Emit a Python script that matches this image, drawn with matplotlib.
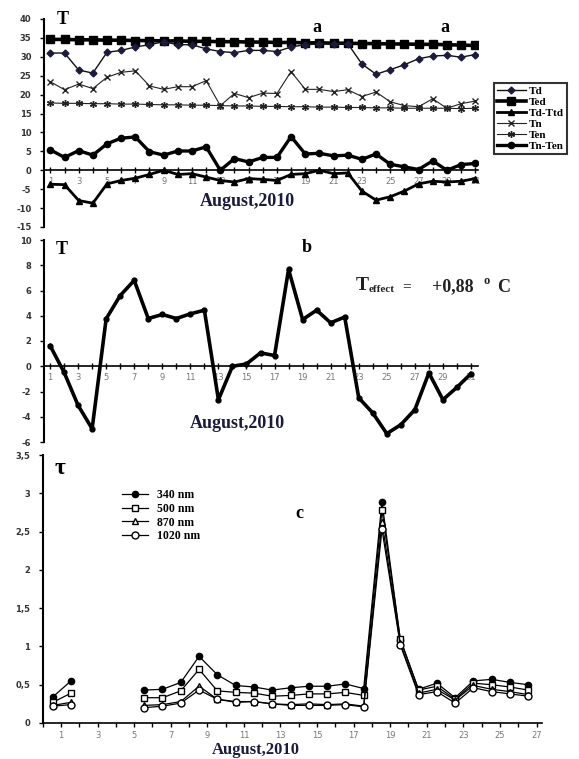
"""Three-panel temperature / optical depth chart, August 2010."""
import matplotlib

matplotlib.use("Agg")
import matplotlib.pyplot as plt
import numpy as np

plt.rcParams["axes.unicode_minus"] = False

W, H = 579, 759
SERIF = "Liberation Serif"
NAVY = "#1b1b3c"

# ---- panel a: daily temperatures ----
DAYS_A = np.arange(1, 32)
TD = [31.0, 31.0, 26.5, 25.7, 31.2, 31.7, 32.6, 33.2, 34.0, 33.2, 33.2, 32.1, 31.4, 31.1, 31.7, 31.7,
      31.4, 32.6, 33.2, 33.4, 33.5, 33.5, 28.1, 25.4, 26.6, 27.9, 29.5, 30.2, 30.4, 29.9, 30.6]
TED = [34.6, 34.6, 34.5, 34.5, 34.4, 34.4, 34.3, 34.3, 34.2, 34.2, 34.1, 34.1, 34.0, 34.0, 33.9, 33.9,
       33.8, 33.8, 33.7, 33.7, 33.6, 33.6, 33.5, 33.5, 33.4, 33.4, 33.3, 33.3, 33.2, 33.1, 33.0]
TD_TTD = [-3.7, -3.8, -8.0, -8.7, -3.6, -2.7, -2.1, -1.1, 0.0, -1.1, -0.9, -1.8, -2.7, -3.1, -2.2, -2.4,
          -2.7, -1.1, -0.9, 0.0, -0.9, -0.7, -5.5, -7.9, -7.0, -5.5, -3.6, -2.9, -3.1, -2.9, -2.2]
TN = [23.4, 21.3, 22.8, 21.6, 24.6, 25.9, 26.3, 22.3, 21.4, 22.1, 22.1, 23.7, 17.1, 20.3, 19.2, 20.4,
      20.3, 26.1, 21.4, 21.4, 20.8, 21.3, 19.5, 20.7, 18.1, 17.1, 16.8, 18.9, 16.4, 17.6, 18.3]
TEN = [17.8, 17.7, 17.7, 17.6, 17.6, 17.5, 17.5, 17.4, 17.3, 17.3, 17.2, 17.2, 17.1, 17.0, 17.0, 16.9,
       16.9, 16.8, 16.8, 16.7, 16.7, 16.6, 16.6, 16.5, 16.5, 16.4, 16.4, 16.4, 16.4, 16.3, 16.4]
TN_TEN = [5.4, 3.4, 5.2, 4.0, 7.0, 8.5, 8.8, 4.9, 4.0, 5.1, 5.1, 6.2, 0.0, 3.1, 2.2, 3.4,
          3.4, 8.9, 4.3, 4.5, 3.8, 4.0, 2.9, 4.3, 1.6, 0.9, 0.2, 2.5, 0.0, 1.5, 1.8]

# ---- panel b: temperature effect ----
T_EFFECT = [1.64, -0.48, -3.1, -4.95, 3.76, 5.6, 6.8, 3.78, 4.1, 3.78, 4.15, 4.44, -2.65, 0.0, 0.18, 1.06,
            0.85, 7.67, 3.7, 4.44, 3.44, 3.9, -2.5, -3.7, -5.34, -4.63, -3.44, -0.53, -2.65, -1.67, -0.58]

# ---- panel c: aerosol optical depth (nan = no data) ----
DAYS_C = np.arange(1, 28)
NAN = np.nan
AOD_340 = [0.34, 0.55, NAN, NAN, NAN, 0.43, 0.44, 0.53, 0.87, 0.63, 0.49, 0.47, 0.43, 0.46, 0.48, 0.48,
           0.51, 0.45, 2.89, 1.09, 0.44, 0.52, 0.33, 0.55, 0.57, 0.53, 0.50]
AOD_500 = [0.27, 0.39, NAN, NAN, NAN, 0.33, 0.33, 0.42, 0.70, 0.42, 0.40, 0.39, 0.35, 0.36, 0.38, 0.38,
           0.40, 0.36, 2.78, 1.10, 0.43, 0.48, 0.31, 0.52, 0.50, 0.47, 0.43]
AOD_870 = [0.23, 0.27, NAN, NAN, NAN, 0.23, 0.24, 0.28, 0.48, 0.31, 0.28, 0.28, 0.25, 0.24, 0.25, 0.24,
           0.25, 0.22, 2.63, 1.04, 0.39, 0.44, 0.30, 0.49, 0.44, 0.41, 0.37]
AOD_1020 = [0.22, 0.24, NAN, NAN, NAN, 0.20, 0.22, 0.26, 0.43, 0.31, 0.27, 0.28, 0.25, 0.23, 0.23, 0.23,
            0.24, 0.21, 2.53, 1.02, 0.37, 0.41, 0.26, 0.46, 0.41, 0.38, 0.35]


def fx(px):
    return px / W


def fy(py):
    return 1 - py / H


def label(fig, x, y, s, size=12, color="black", **kw):
    fig.text(fx(x), fy(y), s, family=SERIF, weight="bold", size=size, color=color,
             va="center", ha="left", **kw)


def style_axis(ax, xzero=True):
    ax.spines["top"].set_visible(False)
    ax.spines["right"].set_visible(False)
    ax.spines["left"].set_linewidth(1.5)
    ax.spines["bottom"].set_linewidth(1.2)
    if xzero:
        ax.spines["bottom"].set_position(("data", 0))
    ax.set_facecolor("none")
    ax.tick_params(axis="y", direction="out", length=3, width=1, labelsize=6, labelcolor="#333333", pad=6)
    ax.tick_params(axis="x", which="both", direction="inout", length=4, width=1, labelsize=6,
                   labelcolor="#777777", pad=3)
    for t in ax.get_yticklabels():
        t.set_fontweight("bold")


def main():
    fig = plt.figure(figsize=(W / 100, H / 100), dpi=100, facecolor="white")

    # panel a
    ax = fig.add_axes([fx(44), fy(227), (478 - 44) / W, (227 - 19) / H])
    ax.plot(DAYS_A, TED, color="black", lw=2.6, marker="s", ms=5.5, label="Ted")
    ax.plot(DAYS_A, TD, color="#111111", lw=1.0, marker="D", ms=3.5, mfc=NAVY, mec=NAVY, label="Td")
    ax.plot(DAYS_A, TN, color="#222222", lw=0.8, marker="x", ms=5, mew=1, label="Tn")
    ax.plot(DAYS_A, TEN, color="#222222", lw=0.8, marker=(6, 2, 0), ms=5, mew=1, label="Ten")
    ax.plot(DAYS_A, TN_TEN, color="black", lw=2.4, marker="o", ms=4.5, label="Tn-Ten")
    ax.plot(DAYS_A, TD_TTD, color="black", lw=2.0, marker="^", ms=4.5, label="Td-Ttd")
    ax.set_xlim(0.55, 31.2)
    ax.set_ylim(-15, 40)
    ax.set_yticks(range(-15, 41, 5))
    ax.set_xticks(range(1, 32, 2))
    ax.set_xticks(range(1, 32), minor=True)
    style_axis(ax)
    handles = {h.get_label(): h for h in ax.get_lines()}
    order = ["Td", "Ted", "Td-Ttd", "Tn", "Ten", "Tn-Ten"]
    leg = ax.legend([handles[k] for k in order], order, loc="upper left",
                    bbox_to_anchor=(fx(494), fy(83)), bbox_transform=fig.transFigure,
                    frameon=True, fancybox=False, edgecolor="black", borderpad=0.25,
                    labelspacing=0.12, handlelength=2.6, handletextpad=0.3, borderaxespad=0,
                    prop={"family": SERIF, "weight": "bold", "size": 8})
    leg.get_frame().set_linewidth(1.5)
    label(fig, 57, 20, "T", size=13)
    label(fig, 312, 27, "a", size=13)
    label(fig, 440, 27, "a", size=13)
    label(fig, 200, 202, "August,2010", size=13, color=NAVY)

    # panel b
    ax = fig.add_axes([fx(44), fy(442), (478 - 44) / W, (442 - 240) / H])
    ax.plot(DAYS_A, T_EFFECT, color="black", lw=2.6, marker="o", ms=3.5)
    ax.set_xlim(0.57, 31.5)
    ax.set_ylim(-6, 10)
    ax.set_yticks(range(-6, 11, 2))
    ax.set_xticks(range(1, 32, 2))
    ax.set_xticks(range(1, 32), minor=True)
    style_axis(ax)
    label(fig, 56, 250, "T", size=13)
    label(fig, 302, 247, "b", size=13)
    label(fig, 190, 423, "August,2010", size=13, color=NAVY)
    label(fig, 356, 286, "T", size=14, color="#222222")
    label(fig, 369, 290, "effect", size=8, color="#222222")
    label(fig, 402, 287, "=", size=11, color="#222222")
    label(fig, 432, 287, "+0,88", size=13, color="#222222")
    label(fig, 483, 281, "o", size=9, color="#222222")
    label(fig, 497, 287, "C", size=13, color="#222222")

    # panel c
    ax = fig.add_axes([fx(42.7), fy(723), (542 - 42.7) / W, (723 - 455) / H])
    xc = DAYS_C - 0.45
    ax.plot(xc, AOD_340, color="black", lw=0.9, marker="o", ms=4.5, mfc="black", label="340 nm")
    ax.plot(xc, AOD_500, color="black", lw=0.9, marker="s", ms=5, mfc="white", label="500 nm")
    ax.plot(xc, AOD_870, color="black", lw=0.9, marker="^", ms=5, mfc="white", label="870 nm")
    ax.plot(xc, AOD_1020, color="black", lw=0.9, marker="o", ms=5, mfc="white", label="1020 nm")
    ax.set_xlim(0, 27.3)
    ax.set_ylim(0, 3.5)
    yt = np.arange(0, 3.51, 0.5)
    ax.set_yticks(yt)
    ax.set_yticklabels([f"{v:g}".replace(".", ",") for v in yt])
    ax.set_xticks(range(1, 28, 2))
    ax.set_xticks(range(0, 28), minor=True)
    style_axis(ax, xzero=False)
    ax.tick_params(axis="x", which="both", direction="out", length=3, pad=3)
    ax.legend(loc="upper left", bbox_to_anchor=(fx(122), fy(489)), bbox_transform=fig.transFigure,
              frameon=False, borderpad=0, borderaxespad=0, labelspacing=0.15, handlelength=2.2,
              handletextpad=0.8, prop={"family": SERIF, "weight": "bold", "size": 8.5})
    label(fig, 55, 468, "τ", size=17)
    label(fig, 295, 513, "c", size=13)
    label(fig, 212, 750, "August,2010", size=12, color=NAVY)

    fig.savefig("out.png", dpi=100, facecolor="white")
    plt.close(fig)


if __name__ == "__main__":
    main()
